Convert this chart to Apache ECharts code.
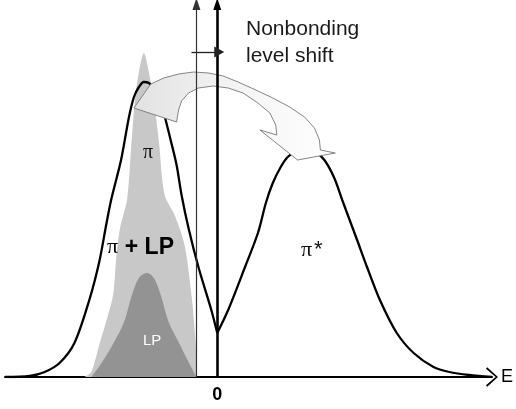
<!DOCTYPE html>
<html>
<head>
<meta charset="utf-8">
<script src="https://cdn.jsdelivr.net/npm/echarts@6/dist/echarts.min.js"></script>
<style>html,body{margin:0;padding:0;background:#fff}#c{width:516px;height:409px}</style>
</head>
<body>
<div id="c"></div>
<script>
// Total DOS (energy E, density) – left part up to the cusp at E = 0, right part after it
const totalLeft = [[-2.14,0],[-1.89,0.01],[-1.74,0.05],[-1.59,0.14],[-1.44,0.34],[-1.29,0.77],[-1.19,1.15],[-1.12,1.52],[-1.07,1.77],[-0.97,2.17],[-0.89,2.60],[-0.84,2.80],[-0.79,2.90],[-0.74,2.95],[-0.69,2.94],[-0.62,2.87],[-0.56,2.72],[-0.52,2.57],[-0.47,2.37],[-0.41,2.12],[-0.36,1.82],[-0.29,1.49],[-0.19,1.10],[-0.06,0.67],[0,0.44]];
const totalRight = [[0,0.44],[0.11,0.67],[0.28,1.10],[0.41,1.44],[0.49,1.74],[0.56,1.94],[0.64,2.10],[0.71,2.20],[0.81,2.27],[0.89,2.29],[0.97,2.27],[1.08,2.17],[1.18,1.99],[1.26,1.77],[1.41,1.37],[1.51,1.10],[1.64,0.77],[1.81,0.44],[1.98,0.24],[2.18,0.10],[2.34,0.05],[2.54,0.02],[2.77,0]];
// occupied pi + LP states (light shading)
const piLP = [[-1.34,0],[-1.27,0.05],[-1.19,0.32],[-1.11,0.59],[-1.05,0.82],[-1.02,1.17],[-0.98,1.49],[-0.91,1.77],[-0.87,2.27],[-0.83,2.77],[-0.79,3.05],[-0.74,3.24],[-0.69,3.05],[-0.64,2.77],[-0.59,2.37],[-0.53,1.82],[-0.43,1.62],[-0.33,1.32],[-0.26,0.82],[-0.22,0.37],[-0.21,0.17],[-0.21,0]];
// lone-pair states (dark shading)
const lp = [[-1.27,0],[-1.16,0.15],[-1.04,0.35],[-0.94,0.55],[-0.86,0.82],[-0.79,0.99],[-0.71,1.04],[-0.64,0.99],[-0.57,0.82],[-0.49,0.55],[-0.39,0.35],[-0.29,0.15],[-0.21,0]];
// Fermi levels: before and after the shift
const fermiOld = -0.21;
const fermiNew = 0;
const shiftLevel = 3.25;
const axisTop = 3.73;
// curved transfer arrow outline (E, DOS)
const arrowOutline = [[-0.84,2.69],[-0.67,2.93],[-0.54,2.99],[-0.39,3.03],[-0.24,3.05],[-0.09,3.04],[0.06,3.01],[0.21,2.95],[0.39,2.87],[0.56,2.79],[0.73,2.70],[0.88,2.60],[0.98,2.49],[1.03,2.37],[1.04,2.27],[1.19,2.24],[0.81,2.17],[0.43,2.47],[0.60,2.42],[0.59,2.52],[0.53,2.64],[0.41,2.74],[0.26,2.84],[0.11,2.89],[-0.04,2.91],[-0.19,2.89],[-0.29,2.84],[-0.36,2.76],[-0.39,2.67],[-0.41,2.55]];
const tickValues = [0];

const chart = echarts.init(document.getElementById('c'), null, {renderer:'canvas'});
const sans = 'Liberation Sans, Arial, sans-serif';
const serif = 'Liberation Serif, Times New Roman, serif';
const noLabel = {show:false};
function vline(x, width, color, z){
  return {type:'line', data:[], z:z, silent:true,
    markLine:{silent:true, symbol:['none','triangle'], symbolSize:[8,12], label:noLabel,
      lineStyle:{color:color, width:width, type:'solid'}, emphasis:{disabled:true},
      data:[[{coord:[x,0]},{coord:[x,axisTop]}]]}};
}
chart.setOption({
  animation:false,
  grid:{left:5, right:20, top:4, bottom:32},
  xAxis:{type:'value', min:-2.14, max:2.77, splitLine:{show:false},
    axisLine:{onZero:false, lineStyle:{color:'#000', width:2},
      symbol:['none','path://M0,11 L10,0 L20,11 L18.4,12.2 L10,2.4 L1.6,12.2 Z'], symbolSize:[20,12]},
    axisTick:{show:false},
    axisLabel:{customValues:tickValues, fontSize:18, fontWeight:'bold', color:'#000', fontFamily:sans, margin:9},
    name:'E', nameLocation:'end', nameGap:9,
    nameTextStyle:{fontSize:18, color:'#000', fontFamily:sans, align:'left', verticalAlign:'middle', padding:[10,0,0,0]}},
  yAxis:{type:'value', min:0, max:axisTop, show:false},
  series:[
    {type:'line', data:piLP, smooth:0.3, showSymbol:false, z:1, lineStyle:{width:0}, areaStyle:{color:'#c8c8c8', opacity:1}},
    {type:'line', data:lp, smooth:0.35, showSymbol:false, z:1, lineStyle:{width:0}, areaStyle:{color:'#939393', opacity:1}},
    {type:'line', data:totalLeft, smooth:0.3, showSymbol:false, z:2, lineStyle:{color:'#000', width:2.3}},
    {type:'line', data:totalRight, smooth:0.3, showSymbol:false, z:2, lineStyle:{color:'#000', width:2.3}},
    vline(fermiOld, 1.2, '#333', 2),
    {type:'custom', data:[[0,0]], z:3, silent:true,
      renderItem:function(params, api){
        const pts = arrowOutline.map(p => api.coord(p));
        return {type:'polygon', shape:{points:pts},
          style:{fill:new echarts.graphic.LinearGradient(0,0,1,0,[{offset:0,color:'#e2e2e2'},{offset:0.5,color:'#f4f4f4'},{offset:1,color:'#ffffff'}]),
            stroke:'#777', lineWidth:0.9}};
      }},
    vline(fermiNew, 2.6, '#000', 4),
    {type:'line', data:[], z:4, silent:true,
      markLine:{silent:true, symbol:['none','triangle'], symbolSize:[11,10], label:noLabel,
        lineStyle:{color:'#222', width:1.3, type:'solid'}, emphasis:{disabled:true},
        data:[[{coord:[fermiOld-0.05,shiftLevel]},{coord:[fermiNew+0.02,shiftLevel]}]]}}
  ],
  graphic:[
    {type:'text', left:246, top:19, z:10, style:{text:'Nonbonding', font:'21px '+sans, fill:'#1a1a1a'}},
    {type:'text', left:246, top:46, z:10, style:{text:'level shift', font:'21px '+sans, fill:'#1a1a1a'}},
    {type:'text', left:143, top:143, z:10, style:{text:'π', font:'20px '+serif, fill:'#111'}},
    {type:'text', left:107, top:236, z:10, style:{text:'{a|π}  {b|+ LP}', rich:{a:{font:'22px '+serif, fill:'#000'}, b:{font:'bold 23px '+sans, fill:'#000'}}}},
    {type:'text', left:143, top:333, z:10, style:{text:'LP', font:'15px '+sans, fill:'#fff'}},
    {type:'text', left:301, top:239, z:10, style:{text:'{a|π}{b|*}', rich:{a:{font:'22px '+serif, fill:'#111'}, b:{font:'22px '+sans, fill:'#111', padding:[0,0,0,2]}}}}
  ]
});
</script>
</body>
</html>
